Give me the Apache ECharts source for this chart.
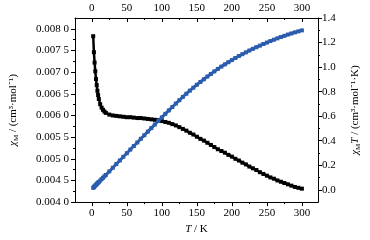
<!DOCTYPE html>
<html><head><meta charset="utf-8">
<script src="https://cdn.jsdelivr.net/npm/echarts@6/dist/echarts.min.js"></script>
<style>html,body{margin:0;padding:0;background:#fff}#c{width:370px;height:240px}</style>
</head><body><div id="c"></div>
<script>
var temps = [2,3,4,5,6,7,8,9,10,12,14,16,18,20,25,30,35,40,45,50,55,60,65,70,75,80,85,90,95,100,105,110,115,120,125,130,135,140,145,150,155,160,165,170,175,180,185,190,195,200,205,210,215,220,225,230,235,240,245,250,255,260,265,270,275,280,285,290,295,300];
var chiM = [0.00783,0.00746,0.00722,0.00702,0.00684,0.00670,0.00657,0.00647,0.00638,0.00626,0.00618,0.00613,0.00609,0.00606,0.00602,0.00600,0.00599,0.00598,0.00597,0.00596,0.00596,0.00595,0.00594,0.00594,0.00593,0.00592,0.00591,0.00590,0.00589,0.00587,0.00585,0.00583,0.00580,0.00577,0.00573,0.00569,0.00565,0.00560,0.00556,0.00551,0.00546,0.00542,0.00537,0.00532,0.00527,0.00522,0.00518,0.00514,0.00509,0.00505,0.00500,0.00496,0.00491,0.00487,0.00482,0.00478,0.00474,0.00469,0.00465,0.00461,0.00457,0.00454,0.00450,0.00447,0.00444,0.00441,0.00438,0.00435,0.00433,0.00431];
var chiMT = [0.016,0.022,0.029,0.035,0.041,0.047,0.053,0.058,0.064,0.075,0.087,0.098,0.110,0.121,0.150,0.180,0.210,0.239,0.269,0.298,0.328,0.357,0.386,0.416,0.445,0.474,0.503,0.532,0.561,0.590,0.619,0.647,0.675,0.703,0.730,0.757,0.783,0.808,0.832,0.856,0.879,0.901,0.923,0.944,0.965,0.985,1.004,1.022,1.040,1.057,1.074,1.090,1.105,1.120,1.135,1.149,1.162,1.175,1.188,1.200,1.212,1.223,1.234,1.245,1.255,1.265,1.274,1.283,1.291,1.299];
var xTicks = [0,50,100,150,200,250,300];
var xMinor = [25,75,125,175,225,275];
var leftTicks = [0.0040,0.0045,0.0050,0.0055,0.0060,0.0065,0.0070,0.0075,0.0080];
var leftMinor = [0.00425,0.00475,0.00525,0.00575,0.00625,0.00675,0.00725,0.00775];
var rightTicks = [0.0,0.2,0.4,0.6,0.8,1.0,1.2,1.4];
var rightMinor = [0.1,0.3,0.5,0.7,0.9,1.1,1.3];

var FONT = 'Liberation Serif';
var lineStyle = {color:'#000', width:1};
function xAx(pos, vals, len, inside, labels, main) {
  return {type:'value', position:pos, min:-24, max:323, gridIndex:0,
    axisLine:{show:main, onZero:false, lineStyle:lineStyle},
    axisTick:{show:true, customValues:vals, length:len, inside:inside, lineStyle:lineStyle},
    axisLabel:{show:labels, customValues:vals, margin: pos==='top'?4:6, color:'#000', fontFamily:FONT, fontSize:11},
    splitLine:{show:false}};
}
function yAx(pos, mn, mx, vals, len, labels, main, fmt, extra) {
  var a = {type:'value', position:pos, min:mn, max:mx,
    axisLine:{show:main, onZero:false, lineStyle:lineStyle},
    axisTick:{show:true, customValues:vals, length:len, inside:false, lineStyle:lineStyle},
    axisLabel:{show:labels, customValues:vals, margin: pos==='left'?6:4, color:'#000', fontFamily:FONT, fontSize:11, formatter:fmt},
    splitLine:{show:false}};
  if (extra) for (var k in extra) a[k] = extra[k];
  return a;
}
var rich = {
  n:{fontFamily:FONT, fontSize:11, color:'#000'},
  i:{fontFamily:FONT, fontSize:11, fontStyle:'italic', color:'#000'},
  s:{fontFamily:FONT, fontSize:7, color:'#000', verticalAlign:'bottom', padding:[6,0,0,0]}
};
var blackData = temps.map(function(t,i){return [t, chiM[i]];});
var blueData = temps.map(function(t,i){return [t, chiMT[i]];});
var chart = echarts.init(document.getElementById('c'), null, {renderer:'canvas'});
chart.setOption({
  animation:false,
  backgroundColor:'#fff',
  grid:{left:69, right:43, top:18, bottom:31, containLabel:false},
  xAxis:[
    Object.assign(xAx('bottom', xTicks, 4, false, true, true), {name:'{i|T}{n| / K}', nameLocation:'middle', nameGap:17, nameTextStyle:{rich:rich}}),
    xAx('bottom', xMinor, 2, false, false, false),
    xAx('top', xTicks, 4, true, true, true),
    xAx('top', xMinor, 2, true, false, false)
  ],
  yAxis:[
    yAx('left', 0.004, 0.00825, leftTicks, 4, true, true, function(v){var s=v.toFixed(4);return s.slice(0,5)+' '+s.slice(5);},
      {name:'{i|χ}{s|M}{n| / (cm³·mol⁻¹)}', nameLocation:'middle', nameGap:55, nameRotate:90, nameTextStyle:{rich:rich}}),
    yAx('left', 0.004, 0.00825, leftMinor, 2, false, false, null),
    yAx('right', -0.1, 1.4, rightTicks, 4, true, true, function(v){return v.toFixed(1);},
      {name:'{i|χ}{s|M}{i|T}{n| / (cm³·mol⁻¹·K)}', nameLocation:'middle', nameGap:31, nameRotate:90, nameTextStyle:{rich:rich}}),
    yAx('right', -0.1, 1.4, rightMinor, 2, false, false, null)
  ],
  series:[
    {type:'line', xAxisIndex:0, yAxisIndex:0, data:blackData, symbol:'rect', symbolSize:4,
      itemStyle:{color:'#000'}, lineStyle:{color:'#000', width:2.5}, z:2},
    {type:'line', xAxisIndex:0, yAxisIndex:2, data:blueData, symbol:'rect', symbolSize:4,
      itemStyle:{color:'#2b5cad'}, lineStyle:{color:'#2b5cad', width:3}, z:3}
  ]
});
</script></body></html>
